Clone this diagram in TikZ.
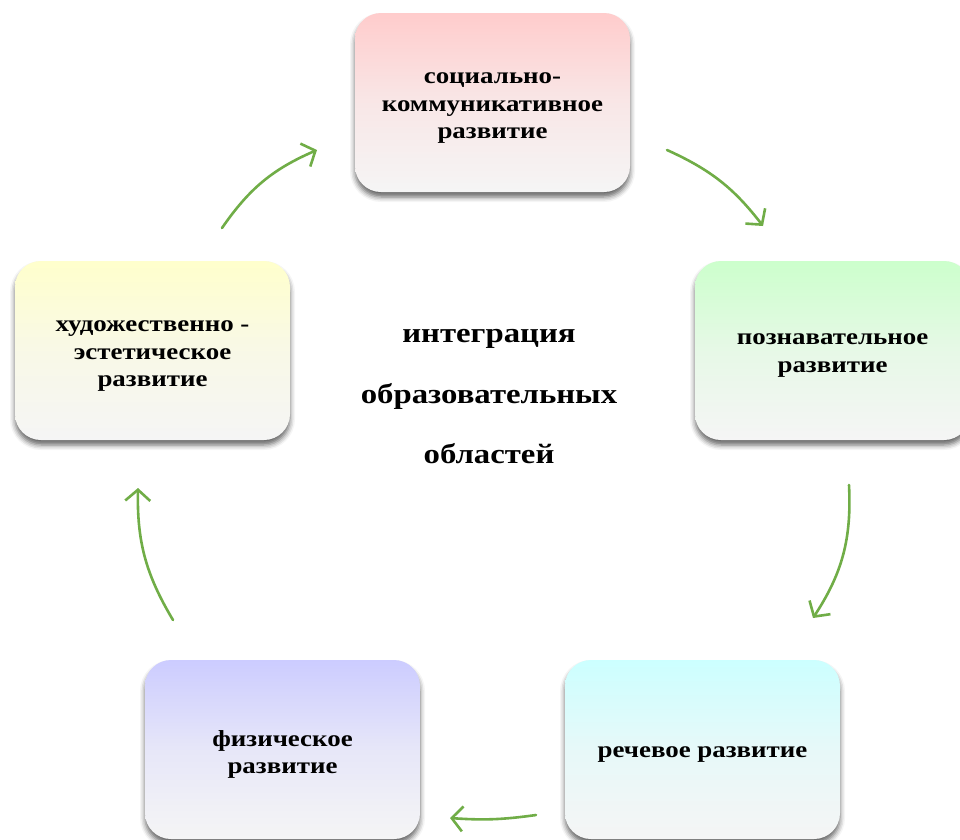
\documentclass[tikz,border=0pt]{standalone}
\usepackage{fontspec}
\setmainfont[FakeStretch=1.17]{Liberation Serif}
\usetikzlibrary{arrows.meta,shadows.blur}
\definecolor{boxgray}{HTML}{F5F5F5}
\definecolor{socpink}{HTML}{FFCCCC}
\definecolor{poznmint}{HTML}{CCFFCC}
\definecolor{rechcyan}{HTML}{CCFFFF}
\definecolor{fizlilac}{HTML}{CCCCFF}
\definecolor{hudyellow}{HTML}{FFFFCC}
\definecolor{arrgreen}{HTML}{70AD47}
\tikzset{
  area/.style={rounded corners=26pt, minimum width=275pt, minimum height=179pt,
    top color=#1, bottom color=boxgray, middle color=#1!35!boxgray,
    blur shadow={shadow xshift=0pt, shadow yshift=-5pt, shadow blur radius=5pt, shadow opacity=60}},
  arealabel/.style={align=center, font=\fontsize{23}{27.5}\selectfont\bfseries},
  cycle arrow/.style={arrgreen, line width=2.6pt, line cap=round,
    -{Straight Barb[length=11pt, width=25pt, line width=2.6pt]}}
}
\begin{document}
\begin{tikzpicture}[x=1pt, y=-1pt, line join=round]
  \useasboundingbox (0,0) rectangle (960,839);
  \clip (0,0) rectangle (960,839);
  % areas
  \node [area=socpink] (soc) at (492.5,102.5) {};
  \node [area=poznmint] (pozn) at (832.5,350.5) {};
  \node [area=rechcyan] (rech) at (702.5,749.5) {};
  \node [area=fizlilac] (fiz) at (282.5,749.5) {};
  \node [area=hudyellow] (hud) at (152.5,350.5) {};
  \node [arealabel] (soclbl) at ([yshift=-6pt]soc.center) {социально-\\коммуникативное\\развитие};
  \node [arealabel] (poznlbl) at ([yshift=-5pt]pozn.center) {познавательное\\развитие};
  \node [arealabel] (rechlbl) at ([yshift=-5pt]rech.center) {речевое развитие};
  \node [arealabel] (fizlbl) at ([yshift=-5pt]fiz.center) {физическое\\развитие};
  \node [arealabel] (hudlbl) at ([yshift=-6pt]hud.center) {художественно -\\эстетическое\\развитие};
  \node [align=center, font=\fontsize{28}{60.5}\selectfont\bfseries] (integr) at (489,397)
    {интеграция\\образовательных\\областей};
  % arrow ends
  \coordinate (a1s) at (222,228); \coordinate (a1e) at (317,150);
  \coordinate (a2s) at (667,150); \coordinate (a2e) at (763,226);
  \coordinate (a3s) at (849,485); \coordinate (a3e) at (813,618);
  \coordinate (a4s) at (536,815); \coordinate (a4e) at (450,818);
  \coordinate (a5s) at (173,620); \coordinate (a5e) at (138,488);
  \foreach \n/\b in {1/16,2/14,3/18,4/6,5/16}
    \draw [cycle arrow] (a\n s) to [bend left=\b] (a\n e);
\end{tikzpicture}
\end{document}
